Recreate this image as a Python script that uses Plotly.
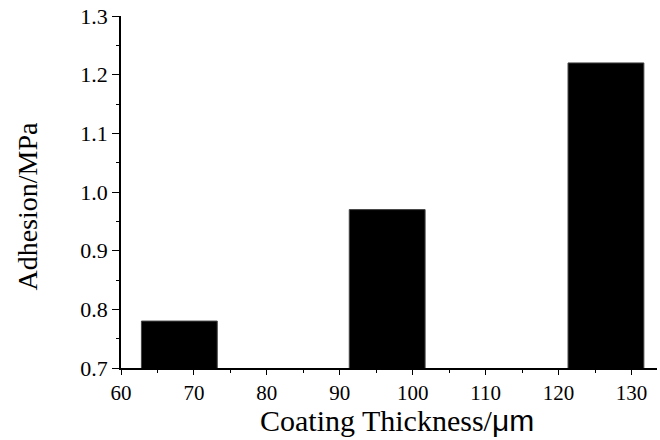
import plotly.graph_objects as go

thickness = [68, 96.5, 126.5]
adhesion = [0.78, 0.97, 1.22]
bar_width = 10.4

x_ticks = [60, 70, 80, 90, 100, 110, 120, 130]
y_ticks = [0.7, 0.8, 0.9, 1.0, 1.1, 1.2, 1.3]

fig = go.Figure(go.Bar(
    x=thickness, y=adhesion, width=bar_width, base=0,
    marker=dict(color="black", line=dict(color="#444", width=1)),
))

font = "Liberation Serif"
fig.update_layout(
    width=660, height=440,
    margin=dict(l=121, r=3, t=16, b=72, autoexpand=False),
    paper_bgcolor="white", plot_bgcolor="white",
    showlegend=False,
    font=dict(family=font, color="black"),
    annotations=[
        dict(text="Adhesion/MPa", xref="paper", yref="paper", x=-0.1745, y=0.46,
             xanchor="center", yanchor="middle", textangle=-90, showarrow=False,
             font=dict(size=28, family=font)),
        dict(text="Coating Thickness/<span style='font-family:Liberation Sans'>μm</span>",
             xref="paper", yref="paper", x=0.515, y=-0.148, borderpad=0,
             xanchor="center", yanchor="middle", showarrow=False,
             font=dict(size=30, family=font)),
    ],
)
fig.update_xaxes(
    range=[60, 133.5], tickvals=x_ticks, ticktext=[str(v) for v in x_ticks],
    automargin=False,
    showline=True, linecolor="black", linewidth=1.5, showgrid=False, zeroline=False,
    ticks="outside", ticklen=5, tickwidth=1.2, tickcolor="black",
    tickfont=dict(size=21, family=font),
    minor=dict(dtick=5, tick0=60, ticks="outside", ticklen=3, tickwidth=1.2, tickcolor="black", showgrid=False),
)
fig.update_yaxes(
    range=[0.7, 1.3], tickvals=y_ticks, ticktext=[f"{v:.1f}" for v in y_ticks],
    automargin=False,
    showline=True, linecolor="black", linewidth=1.5, showgrid=False, zeroline=False,
    ticks="outside", ticklen=7, tickwidth=1.2, tickcolor="black",
    tickfont=dict(size=22, family=font),
    minor=dict(dtick=0.05, tick0=0.7, ticks="outside", ticklen=3, tickwidth=1.2, tickcolor="black", showgrid=False),
)
fig.write_html("out.html", config={"displayModeBar": False},
               post_script="document.body.style.margin='0';")
